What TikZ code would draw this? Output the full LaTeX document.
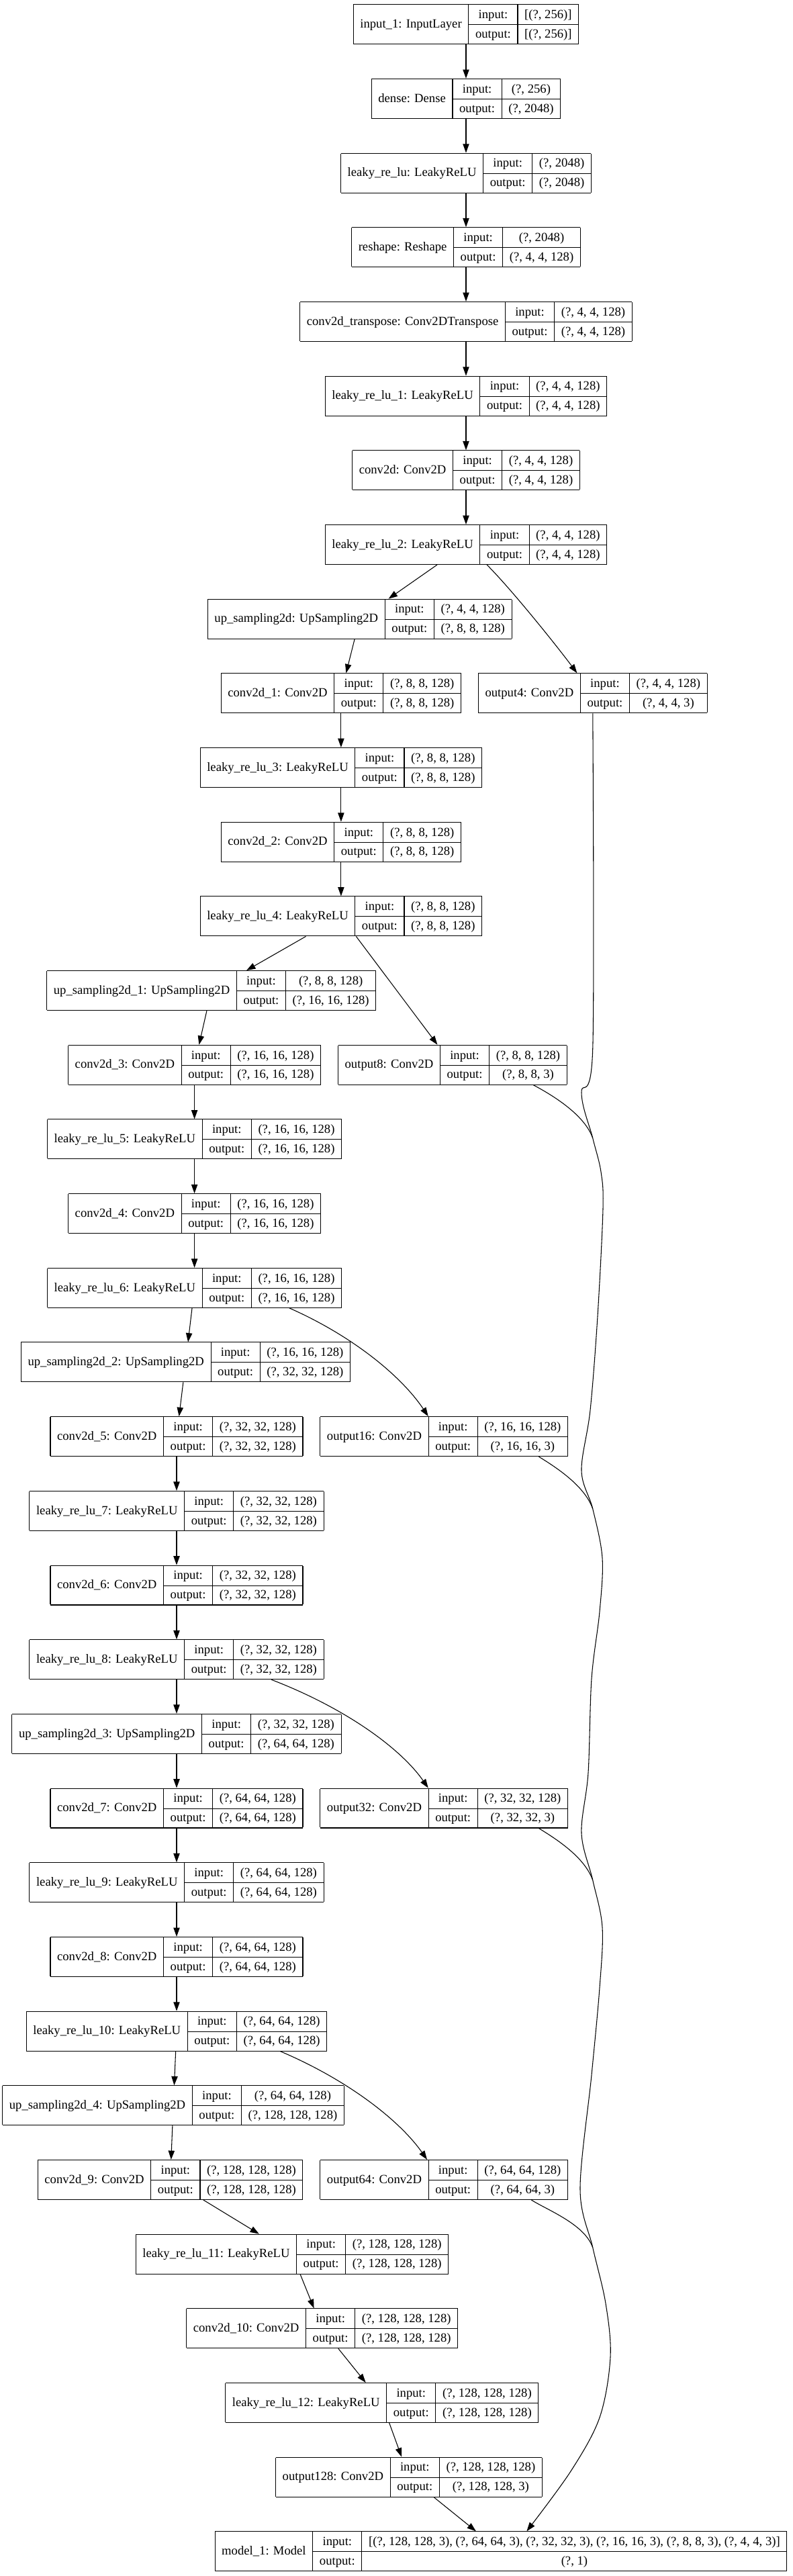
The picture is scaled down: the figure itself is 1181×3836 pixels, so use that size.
\documentclass[tikz,border=0pt]{standalone}
\usepackage{fontspec}
\setmainfont{Liberation Serif}
\usetikzlibrary{arrows.meta}

\setlength{\tabcolsep}{7.6pt}
\setlength{\arrayrulewidth}{0.8pt}

% one keras layer: name | input:/output: | shapes
\newcommand{\layerbox}[3]{%
\begin{tabular}{|c|c|c|}\hline
 & input: & #2\\\cline{2-3}
\raisebox{11.25pt}[0pt][0pt]{#1} & output: & #3\\\hline
\end{tabular}}

\begin{document}
\begin{tikzpicture}[x=0.75pt, y=0.75pt,
	layer/.style={inner sep=0pt, outer sep=0pt, font=\fontsize{14pt}{21.7pt}\selectfont},
	edge/.style={line width=0.8pt, -{Triangle[length=10pt, width=7pt]}},
	wire/.style={line width=0.8pt}]
\useasboundingbox (0,0) rectangle (1181,-3836);

\node[layer] (input1) at (694,-36.2) {\layerbox{input\_1: InputLayer}{[(?, 256)]}{[(?, 256)]}};
\node[layer] (dense) at (694,-146.9) {\layerbox{dense: Dense}{(?, 256)}{(?, 2048)}};
\node[layer] (lrelu) at (694,-257.6) {\layerbox{leaky\_re\_lu: LeakyReLU}{(?, 2048)}{(?, 2048)}};
\node[layer] (reshape) at (694,-368.2) {\layerbox{reshape: Reshape}{(?, 2048)}{(?, 4, 4, 128)}};
\node[layer] (convT) at (694,-478.9) {\layerbox{conv2d\_transpose: Conv2DTranspose}{(?, 4, 4, 128)}{(?, 4, 4, 128)}};
\node[layer] (lrelu1) at (694,-589.6) {\layerbox{leaky\_re\_lu\_1: LeakyReLU}{(?, 4, 4, 128)}{(?, 4, 4, 128)}};
\node[layer] (conv) at (694,-700.3) {\layerbox{conv2d: Conv2D}{(?, 4, 4, 128)}{(?, 4, 4, 128)}};
\node[layer] (lrelu2) at (694,-811.0) {\layerbox{leaky\_re\_lu\_2: LeakyReLU}{(?, 4, 4, 128)}{(?, 4, 4, 128)}};

\node[layer] (up) at (535.7,-921.6) {\layerbox{up\_sampling2d: UpSampling2D}{(?, 4, 4, 128)}{(?, 8, 8, 128)}};
\node[layer] (conv1) at (507.9,-1032.3) {\layerbox{conv2d\_1: Conv2D}{(?, 8, 8, 128)}{(?, 8, 8, 128)}};
\node[layer] (out4) at (882.8,-1032.3) {\layerbox{output4: Conv2D}{(?, 4, 4, 128)}{(?, 4, 4, 3)}};
\node[layer] (lrelu3) at (507.9,-1143.0) {\layerbox{leaky\_re\_lu\_3: LeakyReLU}{(?, 8, 8, 128)}{(?, 8, 8, 128)}};
\node[layer] (conv2) at (507.9,-1253.7) {\layerbox{conv2d\_2: Conv2D}{(?, 8, 8, 128)}{(?, 8, 8, 128)}};
\node[layer] (lrelu4) at (507.9,-1364.4) {\layerbox{leaky\_re\_lu\_4: LeakyReLU}{(?, 8, 8, 128)}{(?, 8, 8, 128)}};

\node[layer] (up1) at (314.8,-1475.0) {\layerbox{up\_sampling2d\_1: UpSampling2D}{(?, 8, 8, 128)}{(?, 16, 16, 128)}};
\node[layer] (conv3) at (289.6,-1585.7) {\layerbox{conv2d\_3: Conv2D}{(?, 16, 16, 128)}{(?, 16, 16, 128)}};
\node[layer] (out8) at (673.9,-1585.7) {\layerbox{output8: Conv2D}{(?, 8, 8, 128)}{(?, 8, 8, 3)}};
\node[layer] (lrelu5) at (289.6,-1696.4) {\layerbox{leaky\_re\_lu\_5: LeakyReLU}{(?, 16, 16, 128)}{(?, 16, 16, 128)}};
\node[layer] (conv4) at (289.6,-1807.1) {\layerbox{conv2d\_4: Conv2D}{(?, 16, 16, 128)}{(?, 16, 16, 128)}};
\node[layer] (lrelu6) at (289.6,-1917.8) {\layerbox{leaky\_re\_lu\_6: LeakyReLU}{(?, 16, 16, 128)}{(?, 16, 16, 128)}};

\node[layer] (up2) at (276.5,-2028.4) {\layerbox{up\_sampling2d\_2: UpSampling2D}{(?, 16, 16, 128)}{(?, 32, 32, 128)}};
\node[layer] (conv5) at (263,-2139.1) {\layerbox{conv2d\_5: Conv2D}{(?, 32, 32, 128)}{(?, 32, 32, 128)}};
\node[layer] (out16) at (661.2,-2139.1) {\layerbox{output16: Conv2D}{(?, 16, 16, 128)}{(?, 16, 16, 3)}};
\node[layer] (lrelu7) at (263,-2249.8) {\layerbox{leaky\_re\_lu\_7: LeakyReLU}{(?, 32, 32, 128)}{(?, 32, 32, 128)}};
\node[layer] (conv6) at (263,-2360.5) {\layerbox{conv2d\_6: Conv2D}{(?, 32, 32, 128)}{(?, 32, 32, 128)}};
\node[layer] (lrelu8) at (263,-2471.2) {\layerbox{leaky\_re\_lu\_8: LeakyReLU}{(?, 32, 32, 128)}{(?, 32, 32, 128)}};

\node[layer] (up3) at (263,-2581.8) {\layerbox{up\_sampling2d\_3: UpSampling2D}{(?, 32, 32, 128)}{(?, 64, 64, 128)}};
\node[layer] (conv7) at (263,-2692.5) {\layerbox{conv2d\_7: Conv2D}{(?, 64, 64, 128)}{(?, 64, 64, 128)}};
\node[layer] (out32) at (661.2,-2692.5) {\layerbox{output32: Conv2D}{(?, 32, 32, 128)}{(?, 32, 32, 3)}};
\node[layer] (lrelu9) at (263,-2803.2) {\layerbox{leaky\_re\_lu\_9: LeakyReLU}{(?, 64, 64, 128)}{(?, 64, 64, 128)}};
\node[layer] (conv8) at (263,-2913.9) {\layerbox{conv2d\_8: Conv2D}{(?, 64, 64, 128)}{(?, 64, 64, 128)}};
\node[layer] (lrelu10) at (263,-3024.6) {\layerbox{leaky\_re\_lu\_10: LeakyReLU}{(?, 64, 64, 128)}{(?, 64, 64, 128)}};

\node[layer] (up4) at (258.1,-3135.2) {\layerbox{up\_sampling2d\_4: UpSampling2D}{(?, 64, 64, 128)}{(?, 128, 128, 128)}};
\node[layer] (conv9) at (253.6,-3245.9) {\layerbox{conv2d\_9: Conv2D}{(?, 128, 128, 128)}{(?, 128, 128, 128)}};
\node[layer] (out64) at (661.2,-3245.9) {\layerbox{output64: Conv2D}{(?, 64, 64, 128)}{(?, 64, 64, 3)}};
\node[layer] (lrelu11) at (435,-3356.6) {\layerbox{leaky\_re\_lu\_11: LeakyReLU}{(?, 128, 128, 128)}{(?, 128, 128, 128)}};
\node[layer] (conv10) at (479.7,-3467.3) {\layerbox{conv2d\_10: Conv2D}{(?, 128, 128, 128)}{(?, 128, 128, 128)}};
\node[layer] (lrelu12) at (568.8,-3578.0) {\layerbox{leaky\_re\_lu\_12: LeakyReLU}{(?, 128, 128, 128)}{(?, 128, 128, 128)}};
\node[layer] (out128) at (609,-3688.6) {\layerbox{output128: Conv2D}{(?, 128, 128, 128)}{(?, 128, 128, 3)}};
\node[layer] (model) at (746,-3799.3) {\layerbox{model\_1: Model}{[(?, 128, 128, 3), (?, 64, 64, 3), (?, 32, 32, 3), (?, 16, 16, 3), (?, 8, 8, 3), (?, 4, 4, 3)]}{(?, 1)}};

% main chain
\draw[edge] (input1) -- (dense);
\draw[edge] (dense) -- (lrelu);
\draw[edge] (lrelu) -- (reshape);
\draw[edge] (reshape) -- (convT);
\draw[edge] (convT) -- (lrelu1);
\draw[edge] (lrelu1) -- (conv);
\draw[edge] (conv) -- (lrelu2);
\draw[edge] (lrelu2) -- (up);
\draw[edge] (up) -- (conv1);
\draw[edge] (conv1) -- (lrelu3);
\draw[edge] (lrelu3) -- (conv2);
\draw[edge] (conv2) -- (lrelu4);
\draw[edge] (lrelu4) -- (up1);
\draw[edge] (up1) -- (conv3);
\draw[edge] (conv3) -- (lrelu5);
\draw[edge] (lrelu5) -- (conv4);
\draw[edge] (conv4) -- (lrelu6);
\draw[edge] (lrelu6) -- (up2);
\draw[edge] (up2) -- (conv5);
\draw[edge] (conv5) -- (lrelu7);
\draw[edge] (lrelu7) -- (conv6);
\draw[edge] (conv6) -- (lrelu8);
\draw[edge] (lrelu8) -- (up3);
\draw[edge] (up3) -- (conv7);
\draw[edge] (conv7) -- (lrelu9);
\draw[edge] (lrelu9) -- (conv8);
\draw[edge] (conv8) -- (lrelu10);
\draw[edge] (lrelu10) -- (up4);
\draw[edge] (up4) -- (conv9);
\draw[edge] (conv9) -- (lrelu11);
\draw[edge] (lrelu11) -- (conv10);
\draw[edge] (conv10) -- (lrelu12);
\draw[edge] (lrelu12) -- (out128);
\draw[edge] (out128) -- (model);

% side outputs
\draw[edge] (lrelu2.-44) .. controls (761.5,-877.3) and (829.3,-962) .. (out4.128.2);
\draw[edge] (lrelu4) -- (out8);
\draw[edge] (lrelu6.-12.7) .. controls (526.5,-1990) and (598.6,-2050.3) .. (out16.128.3);
\draw[edge] (lrelu8.-12.2) .. controls (515.5,-2544) and (597.1,-2604) .. (out32.128.3);
\draw[edge] (lrelu10.-11.9) .. controls (518,-3097.3) and (594.9,-3157.3) .. (out64.130.8);

% long lines down to model_1
\coordinate (j8) at (882.8,-1695);
\coordinate (j16) at (882.8,-2247);
\coordinate (j32) at (882.8,-2800);
\coordinate (j64) at (882.8,-3347);
\draw[edge] plot[smooth, tension=0.55] coordinates {(out4.south) (882.8,-1560) (866,-1627) (j8)
	(895,-1745) (898,-1800) (890,-1960) (879,-2100) (866,-2190) (j16)
	(897,-2320) (893,-2400) (881,-2500) (876,-2640) (866,-2730) (j32)
	(897,-2870) (893,-2960) (881,-3090) (864,-3260) (j64)
	(902,-3430) (909,-3510) (893,-3600) (850,-3680) (model.38)};
\draw[wire] (out8.-14.4) .. controls (822.6,-1630.7) and (870.8,-1660) .. (j8);
\draw[wire] (out16.-12.7) .. controls (826.4,-2184) and (870.8,-2212) .. (j16);
\draw[wire] (out32.-12.7) .. controls (826.4,-2737.3) and (870.8,-2765) .. (j32);
\draw[wire] (out64.-13.8) .. controls (815,-3291) and (870.8,-3312) .. (j64);
\end{tikzpicture}
\end{document}
